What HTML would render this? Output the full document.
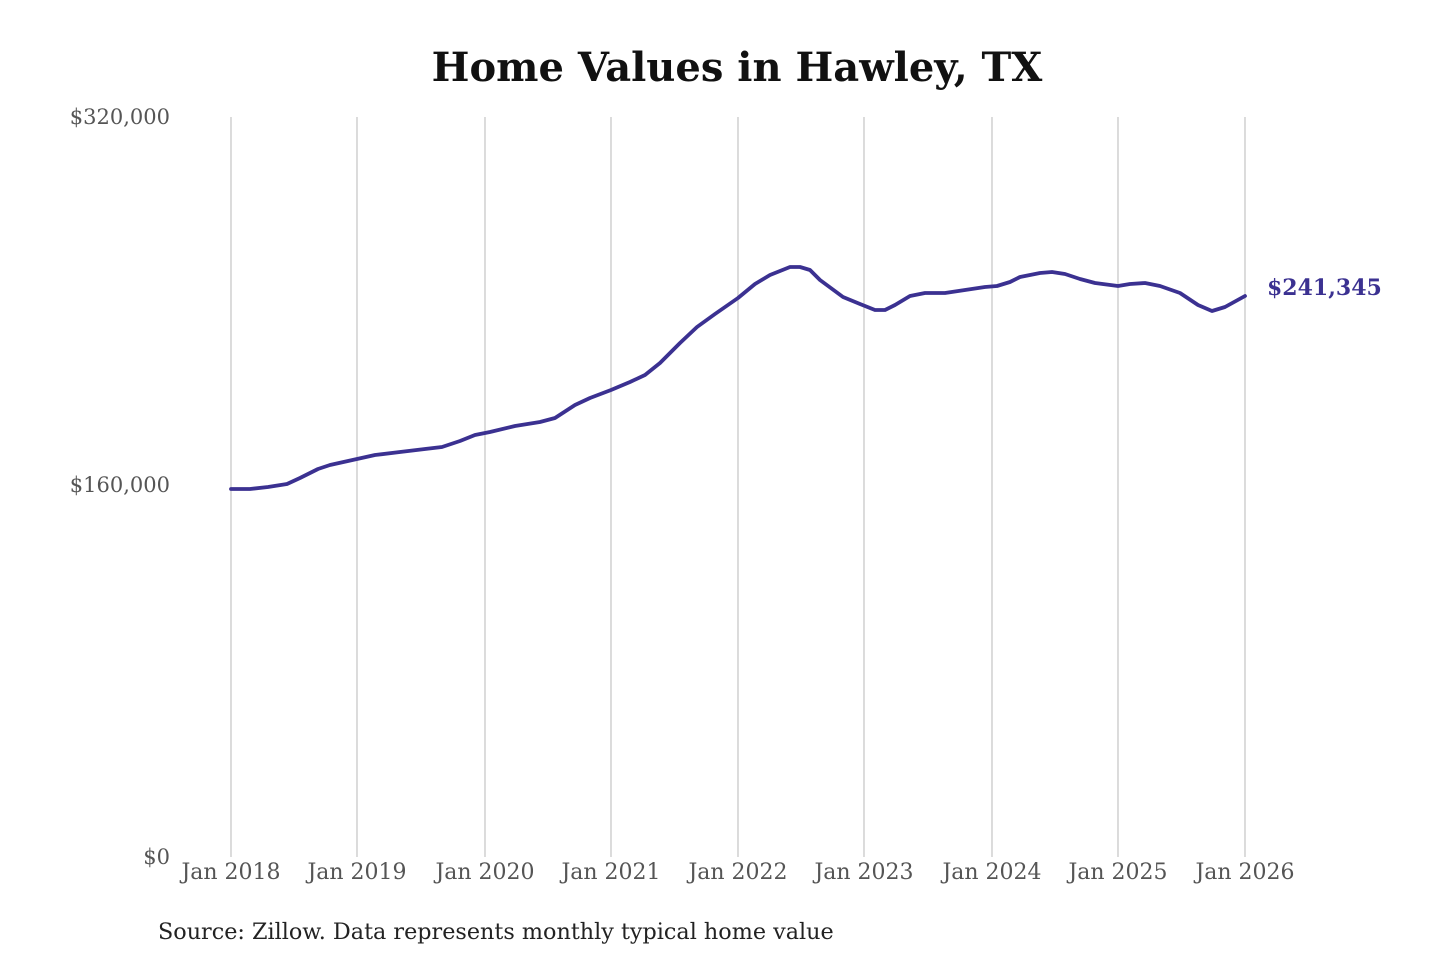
<!DOCTYPE html>
<html><head><meta charset="utf-8"><style>
body{margin:0;background:#fff;width:1440px;height:960px;overflow:hidden}
svg text{font-family:"DejaVu Serif","Liberation Serif",serif}
</style></head><body>
<svg width="1440" height="960" viewBox="0 0 1440 960" xmlns="http://www.w3.org/2000/svg">
<text x="737" y="81" text-anchor="middle" font-size="40" font-weight="bold" fill="#111">Home Values in Hawley, TX</text>
<g stroke="#c8c8c8" stroke-width="1.3">
<line x1="231" y1="117" x2="231" y2="857"/><line x1="357" y1="117" x2="357" y2="857"/>
<line x1="485" y1="117" x2="485" y2="857"/><line x1="611" y1="117" x2="611" y2="857"/>
<line x1="738" y1="117" x2="738" y2="857"/><line x1="864" y1="117" x2="864" y2="857"/>
<line x1="992" y1="117" x2="992" y2="857"/><line x1="1118" y1="117" x2="1118" y2="857"/>
<line x1="1245" y1="117" x2="1245" y2="857"/>
</g>
<g font-size="21" fill="#555" text-anchor="end">
<text x="170" y="124">$320,000</text><text x="170" y="492">$160,000</text><text x="170" y="864">$0</text>
</g>
<g font-size="22" fill="#555" text-anchor="middle">
<text x="231" y="879">Jan 2018</text><text x="357" y="879">Jan 2019</text><text x="485" y="879">Jan 2020</text>
<text x="611" y="879">Jan 2021</text><text x="738" y="879">Jan 2022</text><text x="864" y="879">Jan 2023</text>
<text x="992" y="879">Jan 2024</text><text x="1118" y="879">Jan 2025</text><text x="1245" y="879">Jan 2026</text>
</g>
<polyline fill="none" stroke="#3b3191" stroke-width="3.8" stroke-linejoin="round" stroke-linecap="round" points="231,489 250,489 268,487 287,484 300,478 318,469 330,465 357,459 375,455 400,452 425,449 442,447 460,441 475,435 490,432 515,426 540,422 555,418 575,405 590,398 611,390 630,382 645,375 660,363 680,343 697,327 715,314 738,298 755,284 770,275 780,271 790,267 800,267 810,270 820,280 843,297 860,304 875,310 885,310 895,305 910,296 925,293 945,293 965,290 985,287 997,286 1010,282 1020,277 1040,273 1052,272 1065,274 1080,279 1095,283 1118,286 1130,284 1145,283 1160,286 1180,293 1198,305 1212,311 1225,307 1245,296"/>
<text x="1267" y="295" font-size="22" font-weight="bold" fill="#3b3191">$241,345</text>
<text x="158" y="939" font-size="22.3" fill="#222">Source: Zillow. Data represents monthly typical home value</text>
</svg>
</body></html>
